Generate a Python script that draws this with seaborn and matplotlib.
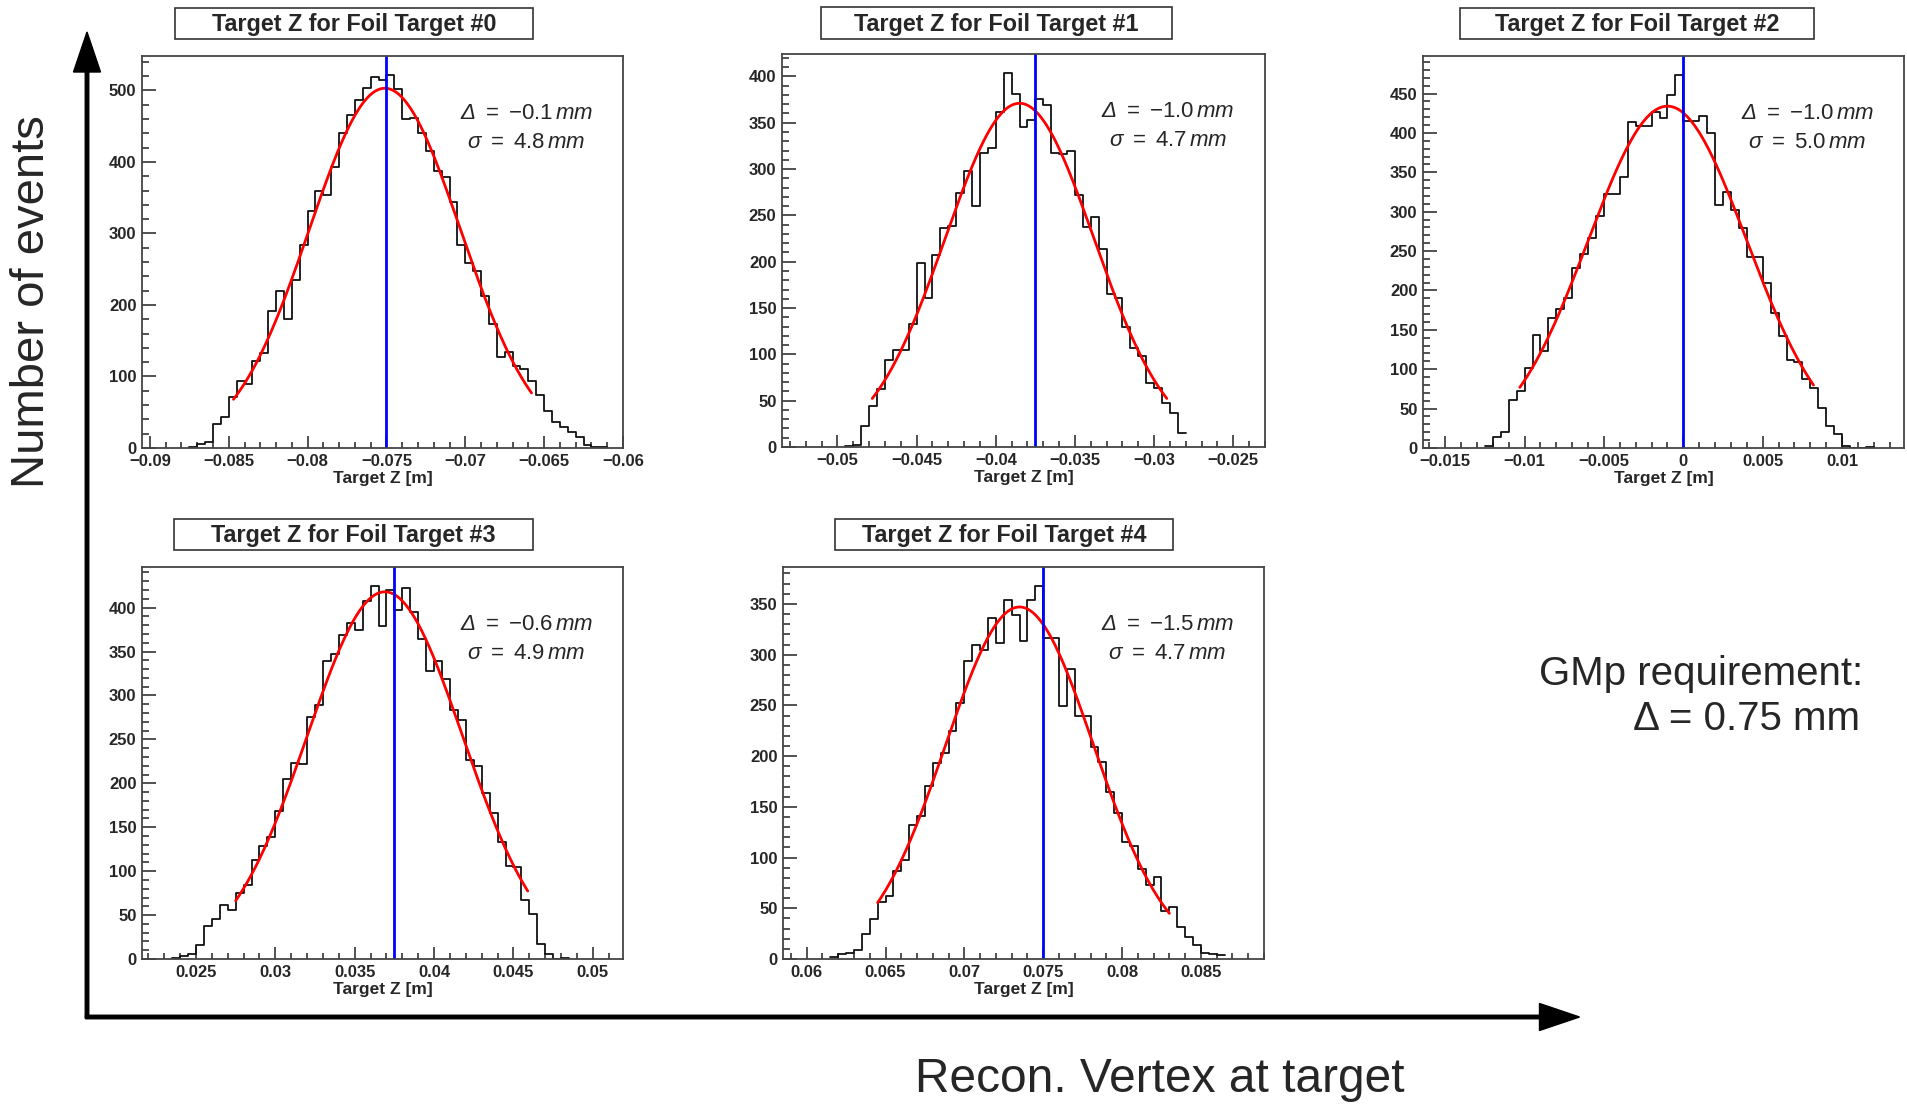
import numpy as np
import pandas as pd
import seaborn as sns
import matplotlib.pyplot as plt
from matplotlib.patches import FancyArrow, Rectangle
from matplotlib.ticker import MultipleLocator, FuncFormatter

# ---- data (0.5 mm bins) ----
counts_0 = [2, 6, 9, 33, 44, 72, 94, 90, 121, 133, 191, 219, 180, 235, 284, 332, 360, 354, 393, 441,
            466, 486, 503, 519, 515, 522, 502, 460, 462, 441, 415, 388, 379, 344, 284, 259, 248, 212, 174, 127,
            134, 115, 110, 93, 74, 52, 37, 30, 23, 15, 4, 2, 2]
counts_1 = [1, 2, 23, 44, 63, 94, 105, 105, 133, 199, 161, 207, 236, 239, 274, 298, 260, 317, 323, 362,
            404, 381, 345, 353, 376, 369, 317, 316, 319, 272, 237, 248, 214, 165, 161, 129, 107, 98, 69, 64,
            47, 37, 15]
counts_2 = [3, 14, 20, 61, 73, 101, 144, 123, 165, 176, 191, 229, 246, 267, 295, 322, 322, 344, 414, 409,
            409, 426, 419, 448, 474, 415, 415, 422, 400, 309, 325, 302, 279, 242, 242, 209, 172, 142, 112, 109,
            87, 76, 51, 28, 18, 2, 0, 0, 1]
counts_3 = [1, 3, 6, 16, 37, 46, 61, 56, 75, 84, 113, 129, 139, 169, 205, 223, 222, 275, 289, 339,
            347, 369, 383, 375, 408, 425, 379, 420, 397, 422, 395, 364, 328, 339, 319, 283, 272, 226, 220, 189,
            166, 133, 106, 105, 67, 51, 17, 6, 0, 1]
counts_4 = [2, 5, 6, 9, 25, 39, 56, 62, 87, 98, 132, 141, 171, 193, 203, 225, 252, 294, 310, 305,
            336, 311, 354, 339, 313, 354, 368, 316, 316, 249, 286, 240, 240, 209, 194, 165, 144, 115, 111, 89,
            73, 81, 47, 51, 32, 22, 14, 6, 5, 4]
all_counts = [counts_0, counts_1, counts_2, counts_3, counts_4]

first_edge = [-0.0875, -0.0495, -0.0125, 0.0235, 0.0615]
bin_width = 0.0005
nominal_z = [-0.075, -0.0375, 0.0, 0.0375, 0.075]
x_limits = [(-0.0905, -0.0600), (-0.0535, -0.0230), (-0.0164, 0.0139), (0.0216, 0.0519), (0.0585, 0.0890)]
y_major = [100, 50, 50, 50, 50]

# gaussian fit results
fit_mean = [-0.0751, -0.0385, -0.0010, 0.0369, 0.0735]
fit_sigma = [0.0048, 0.0047, 0.0050, 0.0049, 0.0047]
fit_amp = [503, 371, 434, 418, 347]
fit_lo = [-0.0847, -0.0478, -0.0103, 0.0275, 0.0645]
fit_hi = [-0.0658, -0.0292, 0.0082, 0.0459, 0.0830]
delta_txt = ['0.1', '1.0', '1.0', '0.6', '1.5']
sigma_txt = ['4.8', '4.7', '5.0', '4.9', '4.7']
titles = ['Target Z for Foil Target #%d' % i for i in range(5)]

# ---- layout in pixels (left, top, right, bottom) ----
W, H = 1907, 1105
panel_px = [(142, 56, 623, 448), (782, 54, 1265, 447), (1423, 56, 1904, 448),
            (142, 567, 623, 959), (783, 567, 1264, 959)]
title_px = [(175, 8, 533, 39), (821, 7, 1172, 39), (1460, 8, 1814, 39),
            (174, 519, 533, 550), (835, 519, 1173, 550)]

sns.set_theme(style='white')
plt.rcParams['font.family'] = ['Liberation Sans', 'DejaVu Sans']
plt.rcParams['mathtext.fontset'] = 'custom'
plt.rcParams['mathtext.rm'] = 'Liberation Sans'
plt.rcParams['mathtext.it'] = 'Liberation Sans:italic'
plt.rcParams['mathtext.bf'] = 'Liberation Sans:bold'
plt.rcParams['mathtext.cal'] = 'Liberation Sans:italic'  # used for the italic capital Delta


def to_fig(l, t, r, b):
    return [l / W, 1 - b / H, (r - l) / W, (b - t) / H]


def tick_fmt(v, pos):
    s = '%g' % (round(v, 6) + 0.0)
    return s.replace('-', '\u2212')


fig = plt.figure(figsize=(W / 100, H / 100), dpi=100)

# overlay for arrows, big labels and title boxes
ov = fig.add_axes([0, 0, 1, 1])
ov.set_xlim(0, W)
ov.set_ylim(H, 0)
ov.axis('off')
ov.add_patch(FancyArrow(87, 1018, 0, -986, width=3.5, head_width=27, head_length=40,
                        length_includes_head=True, color='black'))
ov.add_patch(FancyArrow(85.5, 1017, 1494, 0, width=3.5, head_width=27, head_length=40,
                        length_includes_head=True, color='black'))
ov.text(32, 302, 'Number of events', rotation=90, ha='center', va='center', fontsize=34)
ov.text(1160, 1080, 'Recon. Vertex at target', ha='center', va='center', fontsize=34.5)
ov.text(1863, 685, 'GMp requirement:', ha='right', va='baseline', fontsize=29)
ov.text(1860, 730, '\u0394 = 0.75 mm', ha='right', va='baseline', fontsize=29)

for (l, t, r, b), title in zip(title_px, titles):
    ov.add_patch(Rectangle((l, t), r - l, b - t, facecolor='white', edgecolor='#333333', lw=1.2))
    ov.text((l + r) / 2, (t + b) / 2 + 1, title, ha='center', va='center',
            fontsize=16.8, fontweight='bold')

for i in range(5):
    counts = np.array(all_counts[i])
    centers = first_edge[i] + bin_width * (np.arange(len(counts)) + 0.5)
    df = pd.DataFrame({'z': centers, 'n': counts})
    lo_edge = first_edge[i]
    hi_edge = first_edge[i] + bin_width * len(counts)

    ax = fig.add_axes(to_fig(*panel_px[i]))
    sns.histplot(data=df, x='z', weights='n', binwidth=bin_width, binrange=(lo_edge, hi_edge),
                 element='step', fill=False, color='#111111', linewidth=1.3, ax=ax)

    # gaussian fit curve
    xs = np.linspace(fit_lo[i], fit_hi[i], 300)
    ys = fit_amp[i] * np.exp(-0.5 * ((xs - fit_mean[i]) / fit_sigma[i]) ** 2)
    sns.lineplot(x=xs, y=ys, color='red', linewidth=2, ax=ax)

    ax.axvline(nominal_z[i], color='blue', linewidth=2)

    ax.set_xlim(*x_limits[i])
    ax.set_ylim(0, 1.05 * counts.max())
    ax.xaxis.set_major_locator(MultipleLocator(0.005))
    ax.xaxis.set_minor_locator(MultipleLocator(0.001))
    ax.yaxis.set_major_locator(MultipleLocator(y_major[i]))
    ax.yaxis.set_minor_locator(MultipleLocator(y_major[i] / 5))
    ax.xaxis.set_major_formatter(FuncFormatter(tick_fmt))
    ax.tick_params(axis='both', which='both', direction='in', top=False, right=False,
                   bottom=True, left=True, color='#333333', width=1.2, labelsize=12)
    ax.tick_params(axis='x', which='major', length=8.5, pad=4)
    ax.tick_params(axis='x', which='minor', length=4)
    ax.tick_params(axis='y', which='major', length=10, pad=4)
    ax.tick_params(axis='y', which='minor', length=5)
    for lab in ax.get_xticklabels() + ax.get_yticklabels():
        lab.set_fontweight('bold')
    for sp in ax.spines.values():
        sp.set_color('#444444')
        sp.set_linewidth(1.3)
    ax.set_xlabel('Target Z [m]', fontsize=12.5, fontweight='bold', labelpad=2)
    ax.set_ylabel('')

    ax.text(0.799, 0.853, r'$\mathcal{\Delta}\ =\ {-}%s\,\mathit{mm}$' % delta_txt[i],
            transform=ax.transAxes, ha='center', va='center', fontsize=16)
    ax.text(0.799, 0.779, r'$\sigma\ =\ %s\,\mathit{mm}$' % sigma_txt[i],
            transform=ax.transAxes, ha='center', va='center', fontsize=16)

fig.savefig('out.png', dpi=100)
